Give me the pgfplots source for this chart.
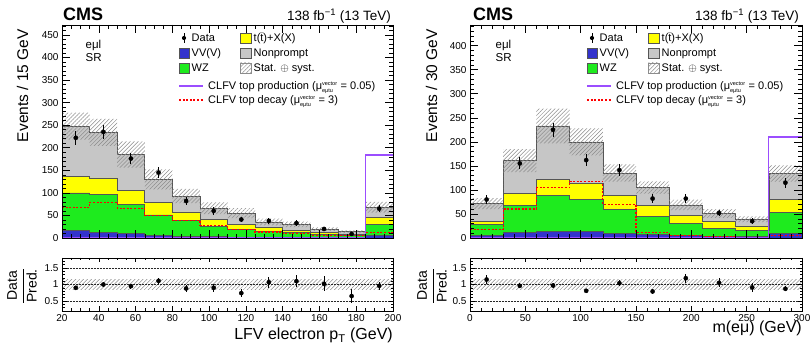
\documentclass[border=0pt]{standalone}
\usepackage{fontspec}
\setmainfont{Liberation Sans}
\usepackage{amsmath}
\usepackage{pgfplots}
\pgfplotsset{compat=1.18}
\usetikzlibrary{patterns.meta}

\definecolor{cyel}{HTML}{FFFF00}
\definecolor{cgray}{HTML}{C6C6C6}
\definecolor{cgreen}{HTML}{1EEB1E}
\definecolor{cblue}{HTML}{3333CC}
\definecolor{cpurp}{HTML}{9B4DFF}
\definecolor{cred}{HTML}{FF0000}
\definecolor{cline}{HTML}{555555}
\definecolor{chatch}{HTML}{8C8C8C}

\tikzset{hatch/.style={pattern={Lines[angle=45,distance=2.8pt,line width=0.5pt]}, pattern color=chatch}}

\pgfplotsset{
  cmsaxis/.style={scale only axis, anchor=south west, tick align=inside, axis on top,
    axis line style={line width=0.8pt}, every tick/.style={black, line width=0.5pt},
    /pgf/number format/assume math mode=true,
    ticklabel style={font=\fontsize{10}{12}\selectfont}},
  mainaxis/.style={cmsaxis, height=213pt, major tick length=8pt, minor tick length=4pt,
    xticklabels={}, ymin=0},
  ratioaxis/.style={cmsaxis, height=53pt, major tick length=4.5pt, minor tick length=2.5pt,
    ymin=0.2, ymax=1.8, ytick={0.5,1,1.5}, yticklabels={0.5,1,1.5},
    minor ytick={0.2,0.3,0.4,0.6,0.7,0.8,0.9,1.1,1.2,1.3,1.4,1.6,1.7,1.8}},
  stk/.style={const plot mark left, draw=cline, line width=0.6pt},
  datapts/.style={only marks, mark=*, mark size=2.1pt, black,
    error bars/.cd, y dir=both, y explicit, error mark=none,
    error bar style={line width=1pt, black}},
  dline/.style={densely dotted, black!85, line width=0.5pt}
}

\newcommand{\mulab}{\text{μ}\ensuremath{^{\text{\fontsize{5.5}{6}\selectfont vector}}_{\text{\fontsize{5.5}{6}\selectfont eμtu}}}}

\newcommand{\cmslegend}[1]{%
\begin{scope}[xshift=#1pt, font=\fontsize{11}{13}\selectfont]
  % Data
  \draw[black, line width=1pt] (184,304) -- (184,314);
  \fill[black] (184,309) circle (2.1);
  \node[anchor=base west, inner sep=0] at (191.5,305.1) {Data};
  % ttX
  \filldraw[fill=cyel, draw=cline, line width=0.5pt] (240.5,304.2) rectangle (251,314);
  \node[anchor=base west, inner sep=0] at (253.5,305.1) {t($\bar{\text{t}}$)+X(X)};
  % VV
  \filldraw[fill=cblue, draw=cline, line width=0.5pt] (179,289.2) rectangle (189.5,299);
  \node[anchor=base west, inner sep=0] at (191.5,290.1) {VV(V)};
  % Nonprompt
  \filldraw[fill=cgray, draw=cline, line width=0.5pt] (240.5,289.2) rectangle (251,299);
  \node[anchor=base west, inner sep=0] at (253.5,290.1) {Nonprompt};
  % WZ
  \filldraw[fill=cgreen, draw=cline, line width=0.5pt] (179,274.2) rectangle (189.5,284);
  \node[anchor=base west, inner sep=0] at (191.5,275.1) {WZ};
  % stat syst
  \fill[hatch] (240.5,274.2) rectangle (251,284);
  \draw[chatch, line width=0.4pt] (240.5,274.2) rectangle (251,284);
  \node[anchor=base west, inner sep=0] at (253.5,275.1) {Stat. $\oplus$ syst.};
  % production
  \draw[cpurp, line width=1.3pt] (179,261) -- (203,261);
  \node[anchor=base west, inner sep=0] at (208,257.1) {CLFV top production ($\mulab$ = 0.05)};
  % decay
  \draw[cred, line width=1.3pt, dash pattern=on 2pt off 1.6pt] (179,247) -- (203,247);
  \node[anchor=base west, inner sep=0] at (208,243.1) {CLFV top decay ($\mulab$ = 3)};
\end{scope}}

\begin{document}
\begin{tikzpicture}[x=1pt,y=1pt]
\path[use as bounding box] (0,0) rectangle (812,347);

%================ LEFT MAIN =================
\begin{axis}[mainaxis, at={(62pt,109pt)}, width=331pt,
  xmin=20, xmax=200, ymax=472,
  xtick={20,40,...,200}, minor xtick={20,25,...,200},
  ytick={0,50,...,450}, minor ytick={0,10,...,470}]
\addplot[stk, fill=cgray] coordinates {(20,248)(35,234)(50,185)(65,130)(80,93)(95,66)(110,55)(125,35.5)(140,30)(155,19.5)(170,14)(185,68)(200,68)} \closedcycle;
\addplot[stk, fill=cyel] coordinates {(20,137)(35,133)(50,105)(65,78)(80,58)(95,41)(110,30)(125,23)(140,17.5)(155,12)(170,8)(185,45)(200,45)} \closedcycle;
\addplot[stk, fill=cgreen] coordinates {(20,100)(35,97)(50,74)(65,51)(80,39)(95,26)(110,19)(125,15)(140,12)(155,8)(170,6)(185,30)(200,30)} \closedcycle;
\addplot[stk, fill=cblue] coordinates {(20,17)(35,13)(50,10)(65,6)(80,4)(95,3)(110,2)(125,2)(140,1.5)(155,1)(170,1)(185,5)(200,5)} \closedcycle;
\addplot[hatch, draw=none] coordinates {(20,278)(35,278)(35,264)(50,264)(50,214)(65,214)(65,152)(80,152)(80,109)(95,109)(95,79)(110,79)(110,66)(125,66)(125,43)(140,43)(140,36)(155,36)(155,23.5)(170,23.5)(170,17)(185,17)(185,80)(200,80)
 (200,56)(185,56)(185,11)(170,11)(170,15.5)(155,15.5)(155,24)(140,24)(140,28)(125,28)(125,44)(110,44)(110,53)(95,53)(95,77)(80,77)(80,108)(65,108)(65,156)(50,156)(50,204)(35,204)(35,218)(20,218)} -- cycle;
\addplot[const plot mark left, cred, line width=1.3pt, dash pattern=on 2pt off 1.6pt] coordinates {(20,68)(35,79)(50,66)(65,50)(80,38)(95,28)(110,19)(125,13)(140,10)(155,6)(170,5)(185,12)(200,12)};
\addplot[const plot mark left, cpurp, line width=1.3pt] coordinates {(20,0.6)(35,0.6)(50,0.6)(65,0.6)(80,0.6)(95,0.6)(110,0.6)(125,0.6)(140,0.6)(155,0.6)(170,0.6)(185,184)(200,184)};
\addplot[datapts] coordinates {(27.5,222) +- (0,15) (42.5,235) +- (0,15) (57.5,176) +- (0,13) (72.5,145) +- (0,12) (87.5,82) +- (0,9) (102.5,60) +- (0,8) (117.5,41) +- (0,6.5) (132.5,38) +- (0,6) (147.5,33) +- (0,6) (162.5,20) +- (0,4.5) (177.5,9) +- (0,3) (192.5,65) +- (0,8)};
\end{axis}

%================ LEFT RATIO =================
\begin{axis}[ratioaxis, at={(62pt,36pt)}, width=331pt,
  xmin=20, xmax=200, xtick={20,40,...,200}, minor xtick={20,25,...,200}]
\addplot[hatch, draw=none] coordinates {(20,1.16)(200,1.16)(200,0.84)(20,0.84)} -- cycle;
\addplot[dline] coordinates {(20,0.5)(200,0.5)};
\addplot[dline] coordinates {(20,1)(200,1)};
\addplot[dline] coordinates {(20,1.5)(200,1.5)};
\addplot[datapts] coordinates {(27.5,0.9) +- (0,0.06) (42.5,1.0) +- (0,0.065) (57.5,0.95) +- (0,0.072) (72.5,1.11) +- (0,0.092) (87.5,0.88) +- (0,0.097) (102.5,0.9) +- (0,0.12) (117.5,0.74) +- (0,0.12) (132.5,1.07) +- (0,0.17) (147.5,1.1) +- (0,0.19) (162.5,1.02) +- (0,0.23) (177.5,0.65) +- (0,0.21) (192.5,0.96) +- (0,0.12)};
\end{axis}

%================ RIGHT MAIN =================
\begin{axis}[mainaxis, at={(470pt,109pt)}, width=332pt,
  xmin=0, xmax=300, ymax=443,
  xtick={0,50,...,300}, minor xtick={0,10,...,300},
  ytick={0,50,...,400}, minor ytick={0,10,...,440}]
\addplot[stk, fill=cgray] coordinates {(0,71.5)(30,161)(60,233)(90,200)(120,135)(150,105)(180,69)(210,51)(240,39)(270,134)(300,134)} \closedcycle;
\addplot[stk, fill=cyel] coordinates {(0,35)(30,92)(60,121.5)(90,113)(120,89)(150,67)(180,46.5)(210,34)(240,25)(270,80)(300,80)} \closedcycle;
\addplot[stk, fill=cgreen] coordinates {(0,28)(30,67)(60,88)(90,80.5)(120,60)(150,45)(180,31)(210,20)(240,15)(270,53)(300,53)} \closedcycle;
\addplot[stk, fill=cblue] coordinates {(0,5)(30,11)(60,14)(90,13)(120,9)(150,7)(180,5)(210,3)(240,3)(270,9)(300,9)} \closedcycle;
\addplot[hatch, draw=none] coordinates {(0,83)(30,83)(30,185)(60,185)(60,269)(90,269)(90,228)(120,228)(120,153)(150,153)(150,118)(180,118)(180,80)(210,80)(210,60)(240,60)(240,45)(270,45)(270,151)(300,151)
 (300,117)(270,117)(270,33)(240,33)(240,42)(210,42)(210,58)(180,58)(180,92)(150,92)(150,117)(120,117)(120,172)(90,172)(90,197)(60,197)(60,137)(30,137)(30,60)(0,60)} -- cycle;
\addplot[const plot mark left, cred, line width=1.3pt, dash pattern=on 2pt off 1.6pt] coordinates {(0,18)(30,60)(60,105)(90,118)(120,70)(150,12)(180,5)(210,2)(240,1)(270,5)(300,5)};
\addplot[const plot mark left, cpurp, line width=1.3pt] coordinates {(0,0.6)(30,0.6)(60,0.6)(90,0.6)(120,0.6)(150,0.6)(180,0.6)(210,0.6)(240,0.6)(270,210)(300,210)};
\addplot[datapts] coordinates {(15,80) +- (0,9) (45,155) +- (0,12.5) (75,225) +- (0,15) (105,162) +- (0,12.7) (135,141) +- (0,11.9) (165,82) +- (0,9) (195,82) +- (0,9) (225,52) +- (0,7.2) (255,35) +- (0,5.9) (285,115) +- (0,10.7)};
\end{axis}

%================ RIGHT RATIO =================
\begin{axis}[ratioaxis, at={(470pt,36pt)}, width=332pt,
  xmin=0, xmax=300, xtick={0,50,...,300}, minor xtick={0,10,...,300}]
\addplot[hatch, draw=none] coordinates {(0,1.16)(300,1.16)(300,0.84)(0,0.84)} -- cycle;
\addplot[dline] coordinates {(0,0.5)(300,0.5)};
\addplot[dline] coordinates {(0,1)(300,1)};
\addplot[dline] coordinates {(0,1.5)(300,1.5)};
\addplot[datapts] coordinates {(15,1.15) +- (0,0.125) (45,0.96) +- (0,0.077) (75,0.97) +- (0,0.064) (105,0.81) +- (0,0.064) (135,1.04) +- (0,0.088) (165,0.79) +- (0,0.086) (195,1.19) +- (0,0.13) (225,1.05) +- (0,0.14) (255,0.91) +- (0,0.15) (285,0.87) +- (0,0.08)};
\end{axis}

%================ TEXT =================
\node[anchor=base west, inner sep=0, font=\fontsize{18}{18}\selectfont\bfseries] at (63,326.3) {CMS};
\node[anchor=base east, inner sep=0, font=\fontsize{13.5}{15}\selectfont] at (391,326.3) {138 fb\textsuperscript{−1} (13 TeV)};
\node[anchor=base west, inner sep=0, font=\fontsize{18}{18}\selectfont\bfseries] at (473,326.3) {CMS};
\node[anchor=base east, inner sep=0, font=\fontsize{13.5}{15}\selectfont] at (799,326.3) {138 fb\textsuperscript{−1} (13 TeV)};

\node[anchor=base west, inner sep=0, font=\fontsize{11.5}{13}\selectfont] at (85.5,298.5) {eμl};
\node[anchor=base west, inner sep=0, font=\fontsize{11.5}{13}\selectfont] at (85.5,285.5) {SR};
\node[anchor=base west, inner sep=0, font=\fontsize{11.5}{13}\selectfont] at (495.5,298.5) {eμl};
\node[anchor=base west, inner sep=0, font=\fontsize{11.5}{13}\selectfont] at (495.5,285.5) {SR};

\node[rotate=90, anchor=base east, inner sep=0, font=\fontsize{15.5}{17}\selectfont] at (28,318) {Events / 15 GeV};
\node[rotate=90, anchor=base east, inner sep=0, font=\fontsize{15.5}{17}\selectfont] at (437,318) {Events / 30 GeV};

\node[rotate=90, inner sep=0, font=\fontsize{14}{16}\selectfont] at (22,61) {$\dfrac{\text{Data}}{\text{Pred.}}$};
\node[rotate=90, inner sep=0, font=\fontsize{14}{16}\selectfont] at (432,61) {$\dfrac{\text{Data}}{\text{Pred.}}$};

\node[anchor=base east, inner sep=0, font=\fontsize{16}{18}\selectfont] at (393,7) {LFV electron p\textsubscript{T} (GeV)};
\node[anchor=base east, inner sep=0, font=\fontsize{16}{18}\selectfont] at (802,14) {m(eμ) (GeV)};

\cmslegend{0}
\cmslegend{408}
\end{tikzpicture}
\end{document}
